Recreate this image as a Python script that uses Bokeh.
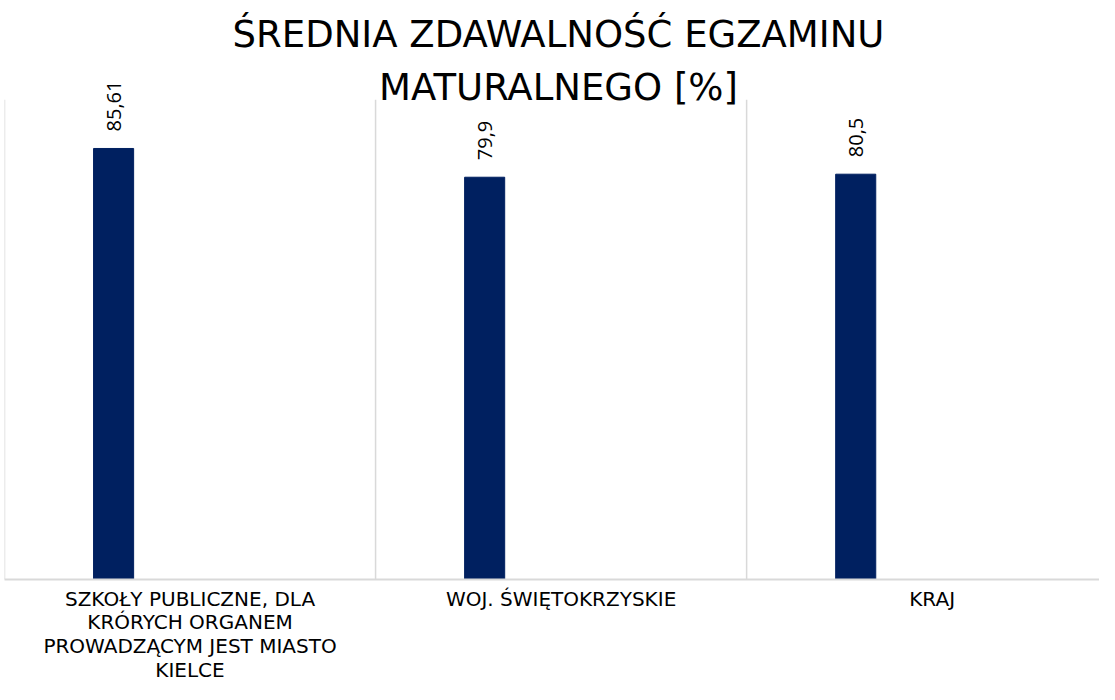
import math
from bokeh.plotting import figure
from bokeh.models import Range1d, FixedTicker, Label, ColumnDataSource
from bokeh.core.properties import value
from bokeh.embed import file_html
from bokeh.resources import INLINE

# ---- data ----
categories = [
    "SZKOŁY PUBLICZNE, DLA\nKRÓRYCH ORGANEM\nPROWADZĄCYM JEST MIASTO\nKIELCE",
    "WOJ. ŚWIĘTOKRZYSKIE",
    "KRAJ",
]
values = [85.61, 79.9, 80.5]
value_labels = ["85,61", "79,9", "80,5"]
title_lines = ["ŚREDNIA ZDAWALNOŚĆ EGZAMINU", "MATURALNEGO [%]"]

# ---- layout constants ----
AXIS_MAX = 95.3          # top of the visual plot area (value axis)
Y_END = 115.0            # extra headroom for labels
X_END = 2.951            # visible part of the category axis
BAR_POS = 0.294          # bar position inside category
BAR_W = 0.108
FONT = "Open Sans"
LABEL_FONT = "DejaVu Sans"
BAR_COLOR = "#002060"
GRID_COLOR = "#d9d9d9"

W, H = 1099, 684

p = figure(width=W, height=H, output_backend="svg", toolbar_location=None,
           x_range=Range1d(0, X_END), y_range=Range1d(0, Y_END),
           min_border_top=0, min_border_left=4, min_border_right=0,
           min_border_bottom=100)
p.outline_line_color = None
p.xgrid.visible = False
p.ygrid.visible = False
p.yaxis.visible = False
p.background_fill_color = "white"
p.border_fill_color = "white"

n = len(categories)
bounds = list(range(n))
p.segment(x0=bounds, y0=[0] * n, x1=bounds, y1=[AXIS_MAX] * n,
          line_color=GRID_COLOR, line_width=1.5)

src = ColumnDataSource(dict(x=[i + BAR_POS for i in range(n)], top=values, lab=value_labels))
p.vbar(x="x", top="top", bottom=0, width=BAR_W, source=src,
       fill_color=BAR_COLOR, line_color=BAR_COLOR)
p.text(x="x", y="top", text="lab", source=src, angle=math.pi / 2,
       text_align="left", text_baseline="middle", y_offset=-17,
       text_font=value(FONT), text_font_size="20px", text_color="black")

xa = p.xaxis[0]
xa.ticker = FixedTicker(ticks=[i + 0.5 for i in range(n)])
xa.major_label_overrides = {i + 0.5: c for i, c in enumerate(categories)}
xa.major_tick_line_color = None
xa.minor_tick_line_color = None
xa.major_tick_out = 0
xa.major_tick_in = 0
xa.axis_line_color = GRID_COLOR
xa.axis_line_width = 2
xa.major_label_text_font = LABEL_FONT
xa.major_label_text_font_size = "20px"
xa.major_label_text_color = "black"
xa.major_label_text_line_height = 0.99
xa.major_label_standoff = 7

# title: screen units are relative to the plot frame
for txt, ys in zip(title_lines, [545, 492]):
    p.add_layout(Label(x=554, y=ys, x_units="screen", y_units="screen", text=txt,
                       text_align="center", text_baseline="alphabetic",
                       text_font=LABEL_FONT, text_font_size="37px", text_color="black"))

open("out.html", "w").write(file_html(p, INLINE))
